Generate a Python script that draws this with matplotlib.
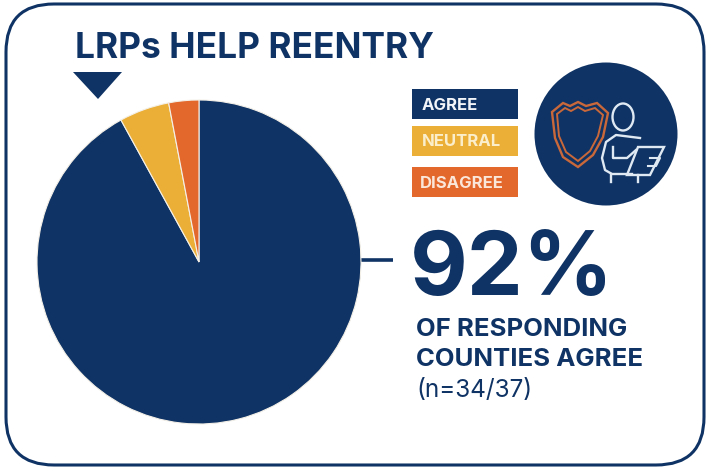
import matplotlib
matplotlib.use("Agg")
import matplotlib.pyplot as plt
from matplotlib.patches import Circle, Ellipse, FancyBboxPatch, Polygon, Rectangle

NAVY = "#0f3364"
GOLD = "#ebae37"
ORANGE = "#e3682b"

# survey shares, in percent
categories = ["AGREE", "NEUTRAL", "DISAGREE"]
shares = [92, 5, 3]
colors = [NAVY, GOLD, ORANGE]
label_colors = ["#f2f5f9", "#fbeecb", "#fbe6da"]

title = "LRPs HELP REENTRY"
headline = "92%"
caption = ["OF RESPONDING", "COUNTIES AGREE"]
sample = "(n=34/37)"

W, H = 710, 469
plt.rcParams["font.family"] = ["Inter", "DejaVu Sans"]

fig = plt.figure(figsize=(W / 100, H / 100), dpi=100)
canvas = fig.add_axes([0, 0, 1, 1])
canvas.set_xlim(0, W)
canvas.set_ylim(H, 0)
canvas.axis("off")

# rounded frame around everything
canvas.add_patch(FancyBboxPatch((6, 4), 698, 461,
                                boxstyle="round,pad=0,rounding_size=48",
                                fc="white", ec=NAVY, lw=2.2))

# pie, in its own axes so the slices come from the shares
cx, cy, r = 199, 262, 162
pie_ax = fig.add_axes([(cx - r) / W, 1 - (cy + r) / H, 2 * r / W, 2 * r / H])
pie_ax.pie(shares, colors=colors, startangle=90, counterclock=False, radius=1,
           wedgeprops={"linewidth": 0.8, "edgecolor": "#f4f0e8"})
pie_ax.set_xlim(-1, 1)
pie_ax.set_ylim(-1, 1)

# title and marker
canvas.text(75, 49, title, fontsize=25.4, fontweight="bold", color=NAVY, va="center", ha="left")
canvas.add_patch(Polygon([(73, 72), (122, 72), (98, 99)], fc=NAVY, ec="none"))

# legend
legend_y = [89, 126, 167]
legend_x = [422, 422, 420]
for name, col, txt, x, y in zip(categories, colors, label_colors, legend_x, legend_y):
    canvas.add_patch(Rectangle((412, y), 106, 30.5, fc=col, ec="none"))
    canvas.text(x, y + 16, name, fontsize=12, fontweight="bold", color=txt,
                va="center", ha="left")

# badge with shield and person at a desk
canvas.add_patch(Circle((606, 134), 71.5, fc=NAVY, ec="none"))
shield = [(552, 112), (563, 103), (570, 106), (578, 102), (586, 106), (597, 103), (608, 113),
          (603, 137), (593, 155), (578, 167), (563, 157), (555, 138)]
inner = [(557, 114), (565, 108), (571, 111), (578, 107), (585, 111), (595, 108), (603, 115),
         (598, 136), (590, 151), (578, 161), (566, 152), (559, 136)]
canvas.add_patch(Polygon(shield, closed=True, fc="none", ec="#c9683a", lw=1.7))
canvas.add_patch(Polygon(inner, closed=True, fc="none", ec="#c9683a", lw=1.4))

ICON = "#dfe9f3"
canvas.add_patch(Ellipse((623, 117), 21, 27, fc=NAVY, ec=ICON, lw=1.7))
# torso and arm
canvas.plot([640, 616, 606, 602, 605, 612, 632], [138, 135, 142, 158, 170, 174, 174],
            color=ICON, lw=1.7)
canvas.plot([613, 613, 627, 636], [147, 158, 158, 150], color=ICON, lw=1.7)
# screen on the desk
canvas.add_patch(Polygon([(638, 147), (664, 147), (650, 175), (627, 175)], closed=True,
                         fc=NAVY, ec=ICON, lw=1.7))
canvas.plot([650, 660, 656, 648], [158, 158, 166, 166], color=ICON, lw=1.5)
# chair and desk legs
canvas.plot([611, 611], [174, 182], color=ICON, lw=1.7)
canvas.plot([638, 638], [175, 182], color=ICON, lw=1.7)

# callout
canvas.plot([361, 393], [260, 260], color=NAVY, lw=2.6, solid_capstyle="butt")
canvas.text(410, 272, headline, fontsize=64, fontweight="bold", color=NAVY, va="center", ha="left")
canvas.text(416, 330, caption[0], fontsize=18.5, fontweight="bold", color=NAVY, va="center", ha="left")
canvas.text(416, 360, caption[1], fontsize=18.5, fontweight="bold", color=NAVY, va="center", ha="left")
canvas.text(416, 390, sample, fontsize=17.5, color=NAVY, va="center", ha="left")

fig.savefig("out.png", dpi=100)
